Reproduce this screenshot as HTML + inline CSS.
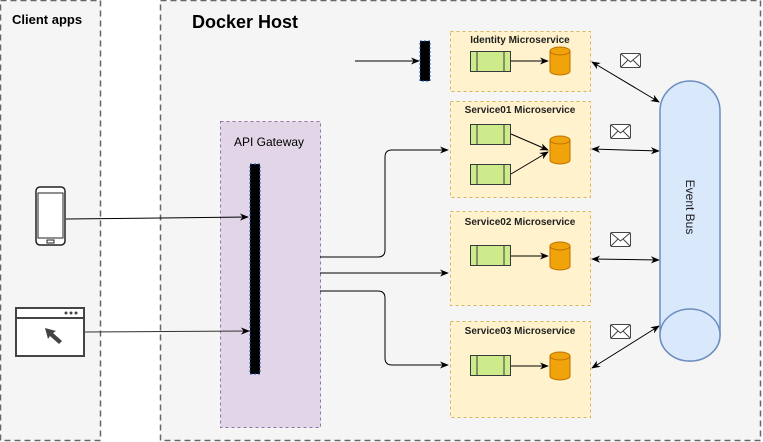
<!DOCTYPE html>
<html><head><style>
body{margin:0;background:#fff;}
svg{display:block;font-family:"Liberation Sans",sans-serif;}
</style></head><body>
<svg width="763" height="442" viewBox="0 0 763 442" xmlns="http://www.w3.org/2000/svg">
<defs>
<marker id="a" viewBox="0 0 10 10" refX="9" refY="5" markerWidth="9" markerHeight="9" orient="auto-start-reverse"><path d="M0,1 L10,5 L0,9 L3,5z" fill="#000"/></marker>
</defs>
<rect x="0.5" y="0.5" width="100" height="440" fill="#f5f5f5" stroke="#666" stroke-dasharray="6 4" stroke-width="1.5"/>
<text x="12" y="24" font-size="13" font-weight="bold">Client apps</text>
<rect x="160.5" y="0.5" width="600" height="440" fill="#f5f5f5" stroke="#666" stroke-dasharray="6 4" stroke-width="1.5"/>
<text x="192" y="28" font-size="18" font-weight="bold">Docker Host</text>
<rect x="220.5" y="121.5" width="100" height="306" fill="#e1d5e7" stroke="#9673a6" stroke-dasharray="3 3"/>
<text x="234" y="146" font-size="12">API Gateway</text>
<rect x="250" y="164" width="10" height="210" fill="#000" stroke="#1a5fb4" stroke-dasharray="2 2"/>
<rect x="36" y="187" width="29" height="58" rx="4" fill="#fff" stroke="#222" stroke-width="1.5"/>
<rect x="38" y="193" width="25" height="45" fill="none" stroke="#222"/>
<rect x="47" y="240" width="7" height="3" fill="none" stroke="#222"/>
<rect x="16" y="308" width="68" height="48" fill="#fff" stroke="#444" stroke-width="2"/>
<line x1="16" y1="318" x2="84" y2="318" stroke="#444" stroke-width="2"/>
<circle cx="66" cy="313" r="1.5" fill="#444"/><circle cx="71" cy="313" r="1.5" fill="#444"/><circle cx="76" cy="313" r="1.5" fill="#444"/>
<path d="M45,328 L56,331 L53,333 L62,341 L59,344 L50,336 L48,339z" fill="#444"/>
<line x1="66" y1="219" x2="248" y2="217" stroke="#000" marker-end="url(#a)"/>
<line x1="85" y1="332" x2="249" y2="331" stroke="#333" marker-end="url(#a)"/>
<line x1="355" y1="61" x2="419" y2="61" stroke="#000" marker-end="url(#a)"/>
<rect x="420" y="41" width="10" height="40" fill="#000" stroke="#1a5fb4" stroke-dasharray="2 2"/>
<g font-size="10" font-weight="bold" fill="#222" text-anchor="middle">
<rect x="450.5" y="31.5" width="140" height="60" fill="#fff2cc" stroke="#d6b656" stroke-dasharray="3 3"/>
<text x="520" y="43">Identity Microservice</text>
<rect x="450.5" y="101.5" width="140" height="96" fill="#fff2cc" stroke="#d6b656" stroke-dasharray="3 3"/>
<text x="520" y="113">Service01 Microservice</text>
<rect x="450.5" y="211.5" width="140" height="94" fill="#fff2cc" stroke="#d6b656" stroke-dasharray="3 3"/>
<text x="520" y="225">Service02 Microservice</text>
<rect x="450.5" y="321.5" width="140" height="96" fill="#fff2cc" stroke="#d6b656" stroke-dasharray="3 3"/>
<text x="520" y="334">Service03 Microservice</text>
</g>
<g stroke="#36393d" fill="#cdeb8b">
<rect x="470.5" y="51.5" width="40" height="20"/><line x1="477" y1="52" x2="477" y2="71"/><line x1="504" y1="52" x2="504" y2="71"/>
<rect x="470.5" y="124.5" width="40" height="20"/><line x1="477" y1="125" x2="477" y2="144"/><line x1="504" y1="125" x2="504" y2="144"/>
<rect x="470.5" y="164.5" width="40" height="20"/><line x1="477" y1="165" x2="477" y2="184"/><line x1="504" y1="165" x2="504" y2="184"/>
<rect x="470.5" y="245.5" width="40" height="20"/><line x1="477" y1="246" x2="477" y2="265"/><line x1="504" y1="246" x2="504" y2="265"/>
<rect x="470.5" y="355.5" width="40" height="20"/><line x1="477" y1="356" x2="477" y2="375"/><line x1="504" y1="356" x2="504" y2="375"/>
</g>
<g stroke="#bd7000" fill="#f0a30a">
<path d="M550,51 v20 a10,4 0 0 0 20,0 v-20z"/><ellipse cx="560" cy="51" rx="10" ry="4"/>
<path d="M550,140 v20 a10,4 0 0 0 20,0 v-20z"/><ellipse cx="560" cy="140" rx="10" ry="4"/>
<path d="M550,246 v20 a10,4 0 0 0 20,0 v-20z"/><ellipse cx="560" cy="246" rx="10" ry="4"/>
<path d="M550,356 v20 a10,4 0 0 0 20,0 v-20z"/><ellipse cx="560" cy="356" rx="10" ry="4"/>
</g>
<g stroke="#000" fill="none">
<line x1="511" y1="61" x2="548" y2="61" marker-end="url(#a)"/>
<line x1="511" y1="134" x2="548" y2="150" marker-end="url(#a)"/>
<line x1="511" y1="174" x2="548" y2="152" marker-end="url(#a)"/>
<line x1="511" y1="256" x2="548" y2="256" marker-end="url(#a)"/>
<line x1="511" y1="366" x2="548" y2="366" marker-end="url(#a)"/>
<path d="M320,257 H378 Q385,257 385,250 V157 Q385,150 392,150 H448" marker-end="url(#a)"/>
<path d="M320,273 H448" marker-end="url(#a)"/>
<path d="M320,291 H378 Q385,291 385,298 V358 Q385,365 392,365 H448" marker-end="url(#a)"/>
<line x1="592" y1="62" x2="659" y2="102" marker-start="url(#a)" marker-end="url(#a)"/>
<line x1="592" y1="149" x2="659" y2="151" marker-start="url(#a)" marker-end="url(#a)"/>
<line x1="592" y1="259" x2="659" y2="260" marker-start="url(#a)" marker-end="url(#a)"/>
<line x1="592" y1="368" x2="659" y2="326" marker-start="url(#a)" marker-end="url(#a)"/>
</g>
<path d="M660,111 a30,30 0 0 1 60,0 V335 a30,26 0 0 1 -60,0z" fill="#dae8fc" stroke="#6c8ebf" stroke-width="1.5"/>
<ellipse cx="690" cy="335" rx="30" ry="26" fill="#dae8fc" stroke="#6c8ebf" stroke-width="1.5"/>
<text x="0" y="0" font-size="12" fill="#222" text-anchor="middle" transform="translate(686,207) rotate(90)">Event Bus</text>
<g stroke="#444" fill="#fff" stroke-width="1">
<rect x="620.5" y="53.5" width="20" height="14" rx="1.5"/><path d="M621,54 L630.5,62 L640,54 M621,67 L628,60 M640,67 L633,60" fill="none"/>
<rect x="610.5" y="124.5" width="20" height="14" rx="1.5"/><path d="M611,125 L620.5,133 L630,125 M611,138 L618,131 M630,138 L623,131" fill="none"/>
<rect x="610.5" y="232.5" width="20" height="14" rx="1.5"/><path d="M611,233 L620.5,241 L630,233 M611,246 L618,239 M630,246 L623,239" fill="none"/>
<rect x="610.5" y="324.5" width="20" height="14" rx="1.5"/><path d="M611,325 L620.5,333 L630,325 M611,338 L618,331 M630,338 L623,331" fill="none"/>
</g>
</svg>
</body></html>
